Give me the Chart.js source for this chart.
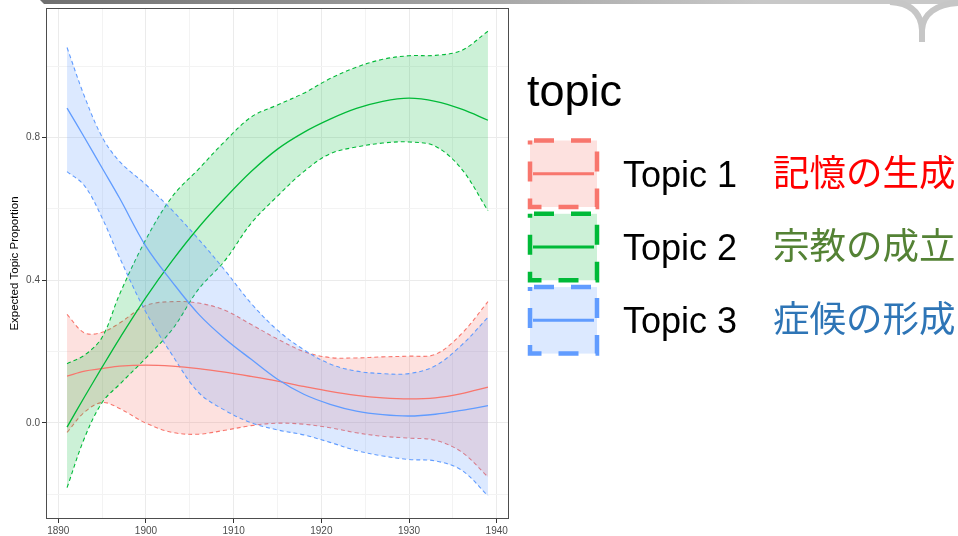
<!DOCTYPE html>
<html>
<head>
<meta charset="utf-8">
<script src="https://cdn.jsdelivr.net/npm/chart.js@4.4.1/dist/chart.umd.min.js"></script>
<style>
    html, body { margin: 0; padding: 0; background: #fff; }
    #wrap { position: relative; width: 958px; height: 536px; overflow: hidden; }
    #chart { position: absolute; left: 0; top: 0; }
    #deco  { position: absolute; left: 0; top: 0; pointer-events: none; }
</style>
</head>
<body>
<div id="wrap">
    <canvas id="chart" width="520" height="536"></canvas>
    <svg id="deco" width="958" height="536" xmlns="http://www.w3.org/2000/svg"></svg>
</div>
<script>
// ============================================================
// DATOS
// ============================================================
const years = [1891, 1893, 1895, 1897, 1900, 1903, 1906, 1909, 1912, 1915, 1918, 1921, 1924, 1927, 1930, 1933, 1936, 1939];

const t1Mean  = [0.131, 0.145, 0.152, 0.159, 0.162, 0.159, 0.152, 0.142, 0.130, 0.117, 0.102, 0.088, 0.077, 0.070, 0.067, 0.070, 0.082, 0.100];
const t1Upper = [0.304, 0.252, 0.254, 0.280, 0.329, 0.340, 0.336, 0.316, 0.276, 0.235, 0.200, 0.183, 0.182, 0.185, 0.187, 0.192, 0.250, 0.340];
const t1Lower = [-0.027, 0.030, 0.057, 0.040, -0.001, -0.027, -0.032, -0.021, -0.008, -0.001, -0.004, -0.014, -0.028, -0.038, -0.043, -0.049, -0.082, -0.152];

const t2Mean  = [-0.012, 0.073, 0.156, 0.237, 0.352, 0.455, 0.548, 0.630, 0.705, 0.768, 0.815, 0.852, 0.882, 0.902, 0.911, 0.902, 0.880, 0.849];
const t2Upper = [0.166, 0.190, 0.240, 0.361, 0.515, 0.635, 0.712, 0.790, 0.858, 0.892, 0.925, 0.966, 0.998, 1.020, 1.030, 1.031, 1.045, 1.099];
const t2Lower = [-0.182, -0.042, 0.057, 0.108, 0.182, 0.262, 0.375, 0.455, 0.560, 0.636, 0.705, 0.755, 0.774, 0.785, 0.788, 0.776, 0.712, 0.595];

const t3Mean  = [0.883, 0.800, 0.715, 0.630, 0.495, 0.395, 0.305, 0.236, 0.178, 0.122, 0.080, 0.052, 0.033, 0.023, 0.019, 0.024, 0.035, 0.048];
const t3Upper = [1.053, 0.915, 0.802, 0.733, 0.668, 0.596, 0.515, 0.428, 0.335, 0.260, 0.205, 0.165, 0.145, 0.138, 0.138, 0.160, 0.218, 0.296];
const t3Lower = [0.705, 0.665, 0.575, 0.463, 0.310, 0.190, 0.085, 0.035, 0.000, -0.020, -0.034, -0.055, -0.078, -0.093, -0.103, -0.107, -0.133, -0.205];

const topicNames    = ['Topic 1', 'Topic 2', 'Topic 3'];
const topicLabelsJa = ['記憶の生成', '宗教の成立', '症候の形成'];
const legendTitle   = 'topic';
const yAxisTitle    = 'Expected Topic Proportion';
const yLabelTicks   = [0.0, 0.4, 0.8];
const xLabelTicks   = [1890, 1900, 1910, 1920, 1930, 1940];

// Colores ggplot
const topicColors  = ['#F8766D', '#00BA38', '#619CFF'];
const topicFills   = ['rgba(248,118,109,0.22)', 'rgba(0,186,56,0.2)', 'rgba(97,156,255,0.22)'];
const topicTextCol = ['#FF0000', '#548235', '#2E75B6'];

const FONT    = "'Liberation Sans', Arial, Helvetica, sans-serif";
const FONT_JA = "'Noto Sans CJK JP', 'Noto Sans CJK SC', sans-serif";

// ============================================================
// DATASETS (orden de dibujo: cinta T1, T2, T3, luego medias)
// ============================================================
const toPts = arr => years.map((x, i) => ({ x, y: arr[i] }));

const bands = [[t1Upper, t1Lower], [t2Upper, t2Lower], [t3Upper, t3Lower]];
const means = [t1Mean, t2Mean, t3Mean];

const datasets = [];
bands.forEach(([up, lo], k) => {
    datasets.push({
        label: topicNames[k] + ' upper',
        data: toPts(up),
        borderColor: topicColors[k],
        backgroundColor: topicFills[k],
        borderWidth: 1.1,
        borderDash: [4, 3],
        fill: '+1'
    });
    datasets.push({
        label: topicNames[k] + ' lower',
        data: toPts(lo),
        borderColor: topicColors[k],
        borderWidth: 1.1,
        borderDash: [4, 3],
        fill: false
    });
});
means.forEach((m, k) => {
    datasets.push({
        label: topicNames[k],
        data: toPts(m),
        borderColor: topicColors[k],
        borderWidth: 1.3,
        fill: false
    });
});
// el primero se dibuja debajo
datasets.forEach((ds, i) => {
    ds.order = datasets.length - i;
    ds.pointRadius = 0;
    ds.tension = 0.35;
});

// ============================================================
// PLUGIN: borde del panel
// ============================================================
const panelBorder = {
    id: 'panelBorder',
    afterDraw(chart) {
        const { ctx, chartArea: a } = chart;
        ctx.save();
        ctx.strokeStyle = '#4d4d4d';
        ctx.lineWidth = 1;
        ctx.strokeRect(Math.round(a.left) + 0.5, Math.round(a.top) + 0.5,
                       Math.round(a.right - a.left) - 1, Math.round(a.bottom - a.top) - 1);
        ctx.restore();
    }
};

const isMajorY = v => yLabelTicks.some(t => Math.abs(t - v) < 1e-6);
const isMajorX = v => xLabelTicks.includes(Math.round(v));

new Chart(document.getElementById('chart'), {
    type: 'line',
    data: { datasets },
    plugins: [panelBorder],
    options: {
        responsive: false,
        animation: false,
        devicePixelRatio: 1,
        layout: { padding: { top: 5, right: 11, bottom: 0, left: 0 } },
        plugins: {
            legend: { display: false },
            tooltip: { enabled: false },
            filler: { propagate: false }
        },
        scales: {
            x: {
                type: 'linear',
                min: 1888.6,
                max: 1941.4,
                afterFit: s => { s.height = 17; },
                border: { display: false },
                grid: {
                    color: c => isMajorX(c.tick.value) ? '#ebebeb' : '#f3f3f3',
                    lineWidth: 1,
                    tickLength: 4,
                    tickColor: c => isMajorX(c.tick.value) ? '#333333' : 'rgba(0,0,0,0)'
                },
                ticks: {
                    stepSize: 5,
                    includeBounds: false,
                    autoSkip: false,
                    maxRotation: 0,
                    padding: 2,
                    color: '#4d4d4d',
                    font: { family: FONT, size: 10 },
                    callback: v => isMajorX(v) ? String(Math.round(v)) : ''
                }
            },
            y: {
                min: -0.27,
                max: 1.164,
                afterFit: s => { s.width = 46; },
                border: { display: false },
                grid: {
                    color: c => isMajorY(c.tick.value) ? '#ebebeb' : '#f3f3f3',
                    lineWidth: 1,
                    tickLength: 4,
                    tickColor: c => isMajorY(c.tick.value) ? '#333333' : 'rgba(0,0,0,0)'
                },
                ticks: {
                    stepSize: 0.2,
                    includeBounds: false,
                    autoSkip: false,
                    padding: 2,
                    color: '#4d4d4d',
                    font: { family: FONT, size: 10 },
                    callback: v => isMajorY(v) ? Number(v).toFixed(1) : ''
                },
                title: {
                    display: true,
                    text: yAxisTitle,
                    color: '#000',
                    font: { family: FONT, size: 11.5 },
                    padding: { top: 8, bottom: 0 }
                }
            }
        }
    }
});

// ============================================================
// LEYENDA + DECORACIÓN DE LA DIAPOSITIVA (SVG)
// ============================================================
const svg = document.getElementById('deco');
const NS = 'http://www.w3.org/2000/svg';
function el(tag, attrs, text) {
    const e = document.createElementNS(NS, tag);
    Object.entries(attrs).forEach(([k, v]) => e.setAttribute(k, v));
    if (text !== undefined) e.textContent = text;
    svg.appendChild(e);
    return e;
}

// barra superior con degradado
const defs = el('defs', {});
const grad = document.createElementNS(NS, 'linearGradient');
grad.setAttribute('id', 'barGrad');
grad.setAttribute('gradientUnits', 'userSpaceOnUse');
grad.setAttribute('x1', '40'); grad.setAttribute('x2', '760');
grad.setAttribute('y1', '0');  grad.setAttribute('y2', '0');
[['0', '#6f6f6f'], ['1', '#c8c8c8']].forEach(([o, c]) => {
    const s = document.createElementNS(NS, 'stop');
    s.setAttribute('offset', o); s.setAttribute('stop-color', c);
    grad.appendChild(s);
});
defs.appendChild(grad);
el('path', { d: 'M 40 0 L 958 0 L 958 4 L 44 4 Z', fill: 'url(#barGrad)' });
el('path', { d: 'M 890 2 C 912 3 921 14 922 30 L 922 42', fill: 'none', stroke: '#c6c6c6', 'stroke-width': 6 });
el('path', { d: 'M 958 3 C 936 4 923 14 922 30', fill: 'none', stroke: '#c6c6c6', 'stroke-width': 6 });

// título de la leyenda
el('text', { x: 527, y: 106, 'font-family': FONT, 'font-size': 45, fill: '#000' }, legendTitle);

topicNames.forEach((name, k) => {
    const top = 140.5 + k * 73.3;
    el('rect', {
        x: 530, y: top, width: 67, height: 66.5,
        fill: topicFills[k], stroke: topicColors[k], 'stroke-width': 4.5,
        'stroke-dasharray': '20 17', 'stroke-dashoffset': -4
    });
    el('line', {
        x1: 533, x2: 594, y1: top + 33.2, y2: top + 33.2,
        stroke: topicColors[k], 'stroke-width': 3
    });
    el('text', { x: 623, y: top + 46, 'font-family': FONT, 'font-size': 36, fill: '#000' }, name);
    el('text', { x: 773, y: top + 45, 'font-family': FONT_JA, 'font-size': 36.5, fill: topicTextCol[k] }, topicLabelsJa[k]);
});
</script>
</body>
</html>
